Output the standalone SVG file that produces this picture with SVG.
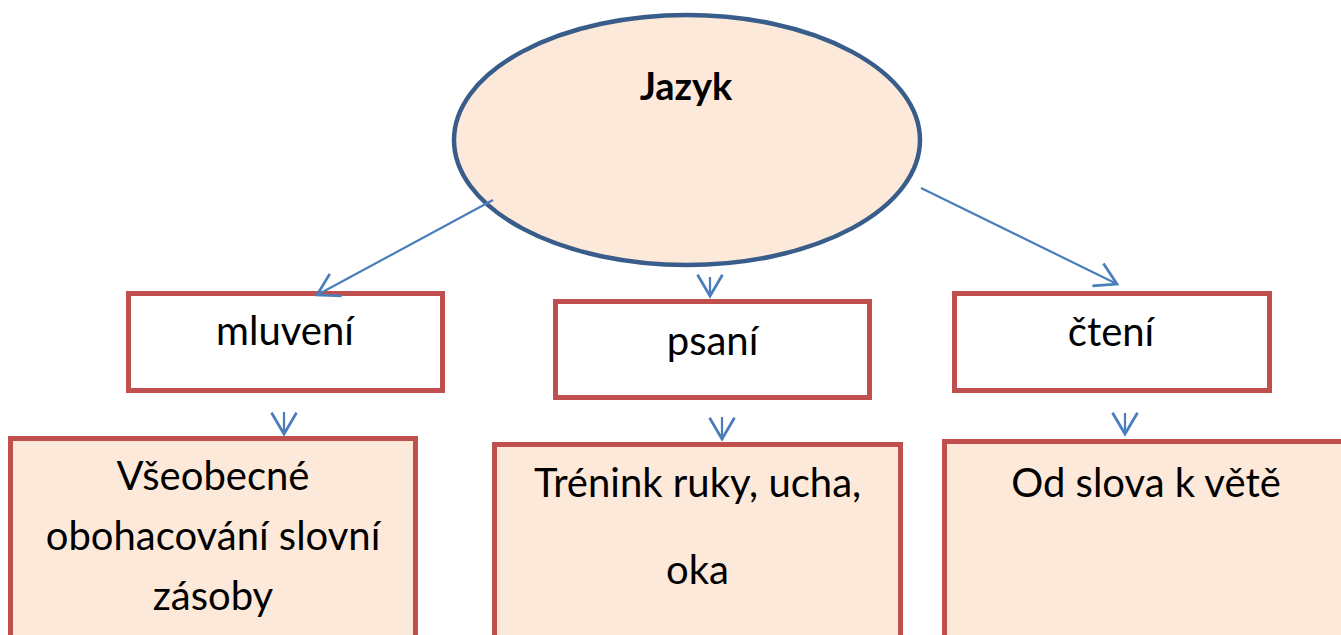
<svg xmlns="http://www.w3.org/2000/svg" width="1341" height="635" viewBox="0 0 1341 635">
<style>
.box{stroke:#C0504D;stroke-width:5}
.top{fill:#FFFFFF}
.sub{fill:#FDE9D9}
.t{font-family:Lato,"Liberation Sans",sans-serif;font-size:40px;fill:#000;text-anchor:middle}
.b{font-weight:bold;font-size:38px}
.con line{stroke:#4A7EBB;stroke-width:2.2;fill:none}
</style>
<defs>
<marker id="arr" markerUnits="userSpaceOnUse" markerWidth="30" markerHeight="30" viewBox="-20 -12 22 24" refX="0" refY="0" orient="auto" overflow="visible">
<path d="M-17,-10 L0,0 L-17,10" fill="none" stroke="#4A7EBB" stroke-width="2.2"/>
</marker>
</defs>
<rect width="1341" height="635" fill="#FFFFFF"/>
<g id="jazyk">
<ellipse cx="687" cy="140" rx="233" ry="125" fill="#FDE9D9" stroke="#385D8A" stroke-width="4.5"/>
<text class="t b" x="686" y="100">Jazyk</text>
</g>
<g id="mluveni">
<rect class="box top" x="128.5" y="293.5" width="314" height="97"/>
<text class="t" x="285" y="345">mluvení</text>
</g>
<g id="psani">
<rect class="box top" x="555.5" y="301.5" width="314" height="96"/>
<text class="t" x="712.5" y="355">psaní</text>
</g>
<g id="cteni">
<rect class="box top" x="954.5" y="293.5" width="315" height="97"/>
<text class="t" x="1111" y="346">čtení</text>
</g>
<g id="slovni-zasoba">
<rect class="box sub" x="10.5" y="438.5" width="405" height="220"/>
<text class="t" x="213" y="490">Všeobecné</text>
<text class="t" x="213" y="550">obohacování slovní</text>
<text class="t" x="213" y="610">zásoby</text>
</g>
<g id="trenink">
<rect class="box sub" x="494.5" y="444.5" width="406" height="220"/>
<text class="t" x="697.5" y="497">Trénink ruky, ucha,</text>
<text class="t" x="697.5" y="584">oka</text>
</g>
<g id="od-slova">
<rect class="box sub" x="944.5" y="441.5" width="405" height="220"/>
<text class="t" x="1146" y="497">Od slova k větě</text>
</g>
<g id="connectors" class="con">
<line x1="493" y1="200" x2="317" y2="295" marker-end="url(#arr)"/>
<line x1="921" y1="188" x2="1117" y2="284" marker-end="url(#arr)"/>
<line x1="710" y1="277" x2="710" y2="296" marker-end="url(#arr)"/>
<line x1="284" y1="412" x2="284" y2="434" marker-end="url(#arr)"/>
<line x1="722" y1="417" x2="722" y2="439" marker-end="url(#arr)"/>
<line x1="1125" y1="413" x2="1125" y2="434" marker-end="url(#arr)"/>
</g>
</svg>
